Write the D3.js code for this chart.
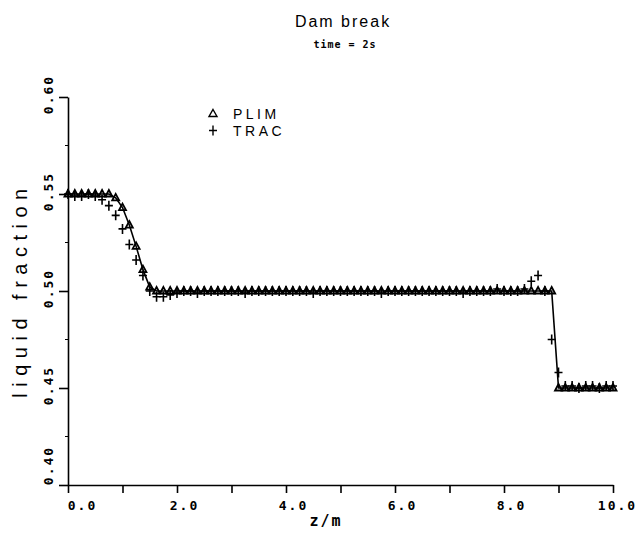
<!DOCTYPE html>
<html lang="en">
<head>
<meta charset="utf-8">
<style>
body { margin: 0; background: #fff; }
svg { display: block; }
.tick text { font-family: "DejaVu Sans Mono", monospace; font-weight: bold; font-size: 13px; letter-spacing: 2px; fill: #000; }
.thin { font-family: "Liberation Sans", Arial, sans-serif; fill: #000; }
</style>
<title>Dam break</title>
<script src="https://cdn.jsdelivr.net/npm/d3@7"></script>
</head>
<body>
<div id="chart"></div>
<script>

// cell positions (m)
var zValues = [
  0, 0.125, 0.25, 0.375, 0.5, 0.625, 0.75, 0.875,
  1, 1.125, 1.25, 1.375, 1.5, 1.625, 1.75, 1.875,
  2, 2.125, 2.25, 2.375, 2.5, 2.625, 2.75, 2.875,
  3, 3.125, 3.25, 3.375, 3.5, 3.625, 3.75, 3.875,
  4, 4.125, 4.25, 4.375, 4.5, 4.625, 4.75, 4.875,
  5, 5.125, 5.25, 5.375, 5.5, 5.625, 5.75, 5.875,
  6, 6.125, 6.25, 6.375, 6.5, 6.625, 6.75, 6.875,
  7, 7.125, 7.25, 7.375, 7.5, 7.625, 7.75, 7.875,
  8, 8.125, 8.25, 8.375, 8.5, 8.625, 8.75, 8.875,
  9, 9.125, 9.25, 9.375, 9.5, 9.625, 9.75, 9.875,
  10
];

var plim = [
  0.550, 0.550, 0.550, 0.550, 0.550, 0.550, 0.550, 0.548,
  0.543, 0.534, 0.523, 0.511, 0.502, 0.500, 0.500, 0.500,
  0.500, 0.500, 0.500, 0.500, 0.500, 0.500, 0.500, 0.500,
  0.500, 0.500, 0.500, 0.500, 0.500, 0.500, 0.500, 0.500,
  0.500, 0.500, 0.500, 0.500, 0.500, 0.500, 0.500, 0.500,
  0.500, 0.500, 0.500, 0.500, 0.500, 0.500, 0.500, 0.500,
  0.500, 0.500, 0.500, 0.500, 0.500, 0.500, 0.500, 0.500,
  0.500, 0.500, 0.500, 0.500, 0.500, 0.500, 0.500, 0.500,
  0.500, 0.500, 0.500, 0.500, 0.500, 0.500, 0.500, 0.500,
  0.450, 0.450, 0.450, 0.450, 0.450, 0.450, 0.450, 0.450,
  0.450
];

var trac = [
  0.550, 0.549, 0.549, 0.550, 0.549, 0.547, 0.544, 0.539,
  0.532, 0.524, 0.516, 0.508, 0.500, 0.497, 0.497, 0.498,
  0.499, 0.500, 0.500, 0.499, 0.500, 0.500, 0.500, 0.500,
  0.500, 0.500, 0.499, 0.500, 0.500, 0.500, 0.500, 0.500,
  0.500, 0.500, 0.500, 0.500, 0.499, 0.500, 0.500, 0.500,
  0.500, 0.500, 0.500, 0.500, 0.500, 0.500, 0.499, 0.500,
  0.500, 0.500, 0.500, 0.500, 0.500, 0.500, 0.500, 0.500,
  0.500, 0.500, 0.499, 0.500, 0.500, 0.500, 0.500, 0.501,
  0.500, 0.500, 0.500, 0.501, 0.505, 0.508, 0.500, 0.475,
  0.458, 0.451, 0.451, 0.450, 0.451, 0.451, 0.450, 0.451,
  0.451
];

var xTicks = [0, 1, 2, 3, 4, 5, 6, 7, 8, 9, 10];
var yTicks = [0.40, 0.45, 0.50, 0.55, 0.60];
var yMinor = [0.425, 0.475, 0.525, 0.575];
var seriesNames = ["PLIM", "TRAC"];

var width = 638,
	height = 540;

var svg = d3.select("#chart")
	.append("svg")
	.attr("width", width)
	.attr("height", height);

var x = d3.scaleLinear().domain([0, 10]).range([68, 613]);
var y = d3.scaleLinear().domain([0.40, 0.60]).range([485, 97]);

// x axis
var xAxis = svg.append("g")
	.attr("transform", "translate(0," + y(0.40) + ")")
	.call(d3.axisBottom(x)
		.tickValues(xTicks)
		.tickSize(8)
		.tickSizeOuter(0)
		.tickFormat(function(d){ return d % 2 === 0 ? d3.format(".1f")(d) : ""; }));
xAxis.selectAll("text")
	.attr("y", 16)
	.attr("dy", "0.71em")
	.attr("dx", function(d){ return d === 0 ? 14 : (d === 10 ? 4 : 7); });

// y axis
var yAxis = svg.append("g")
	.attr("transform", "translate(" + x(0) + ",0)")
	.call(d3.axisLeft(y)
		.tickValues(yTicks)
		.tickSize(9)
		.tickSizeOuter(0)
		.tickFormat(d3.format(".2f")));
yAxis.selectAll("text")
	.attr("x", null)
	.attr("dy", null)
	.attr("text-anchor", "middle")
	.attr("transform", function(d){ return "translate(-15," + (d === 0.40 ? -20 : -3) + ") rotate(-90)"; });

yAxis.selectAll(".minor")
	.data(yMinor)
	.enter()
	.append("line")
	.attr("class", "minor")
	.attr("x1", -3).attr("x2", 0)
	.attr("y1", function(d){ return y(d); })
	.attr("y2", function(d){ return y(d); })
	.attr("stroke", "#000");

svg.selectAll(".domain, .tick line").attr("stroke", "#000").attr("stroke-width", 1.6);

// titles
svg.append("text")
	.attr("class", "thin")
	.attr("x", 343).attr("y", 27)
	.attr("text-anchor", "middle")
	.style("font-size", "16px")
	.style("letter-spacing", "2px")
	.text("Dam break");

svg.append("text")
	.attr("x", 345).attr("y", 48)
	.attr("text-anchor", "middle")
	.style("font-family", "DejaVu Sans Mono, monospace")
	.style("font-weight", "bold")
	.style("font-size", "10px")
	.style("letter-spacing", "1px")
	.text("time = 2s");

svg.append("text")
	.attr("class", "thin")
	.attr("transform", "translate(27,290) rotate(-90)")
	.attr("text-anchor", "middle")
	.style("font-size", "20px")
	.style("letter-spacing", "6.5px")
	.text("liquid fraction");

svg.append("text")
	.attr("x", 326).attr("y", 526)
	.attr("text-anchor", "middle")
	.style("font-family", "DejaVu Sans Mono, monospace")
	.style("font-weight", "bold")
	.style("font-size", "15px")
	.style("letter-spacing", "2px")
	.text("z/m");

// markers
var triPath = "M0,-4L3.5,2.5L-3.5,2.5Z";
var plusPath = "M-4,0H4M0,-5V5";

var line = d3.line()
	.x(function(d){ return x(d[0]); })
	.y(function(d){ return y(d[1]); });

var plimPts = zValues.map(function(z, i){ return [z, plim[i]]; });
var tracPts = zValues.map(function(z, i){ return [z, trac[i]]; });

svg.append("path")
	.datum(plimPts)
	.attr("d", line)
	.attr("fill", "none")
	.attr("stroke", "#000")
	.attr("stroke-width", 1.6);

svg.selectAll(".tri")
	.data(plimPts)
	.enter()
	.append("path")
	.attr("class", "tri")
	.attr("d", triPath)
	.attr("transform", function(d){ return "translate(" + x(d[0]) + "," + y(d[1]) + ")"; })
	.attr("fill", "none")
	.attr("stroke", "#000")
	.attr("stroke-width", 1.8);

svg.selectAll(".plus")
	.data(tracPts)
	.enter()
	.append("path")
	.attr("class", "plus")
	.attr("d", plusPath)
	.attr("transform", function(d){ return "translate(" + x(d[0]) + "," + y(d[1]) + ")"; })
	.attr("fill", "none")
	.attr("stroke", "#000")
	.attr("stroke-width", 1.6);

// legend
var legend = svg.append("g").attr("transform", "translate(213,114)");
legend.selectAll("path")
	.data(seriesNames)
	.enter()
	.append("path")
	.attr("d", function(d, i){ return i === 0 ? "M0,-4.5L4,2.5L-4,2.5Z" : plusPath; })
	.attr("transform", function(d, i){ return "translate(0," + (i * 16.5) + ")"; })
	.attr("fill", "none")
	.attr("stroke", "#000")
	.attr("stroke-width", 1.4);
legend.selectAll("text")
	.data(seriesNames)
	.enter()
	.append("text")
	.attr("class", "thin")
	.attr("x", 20)
	.attr("y", function(d, i){ return i * 16.5 + 5; })
	.style("font-size", "14px")
	.style("letter-spacing", "3.5px")
	.text(function(d){ return d; });

</script>
</body>
</html>
